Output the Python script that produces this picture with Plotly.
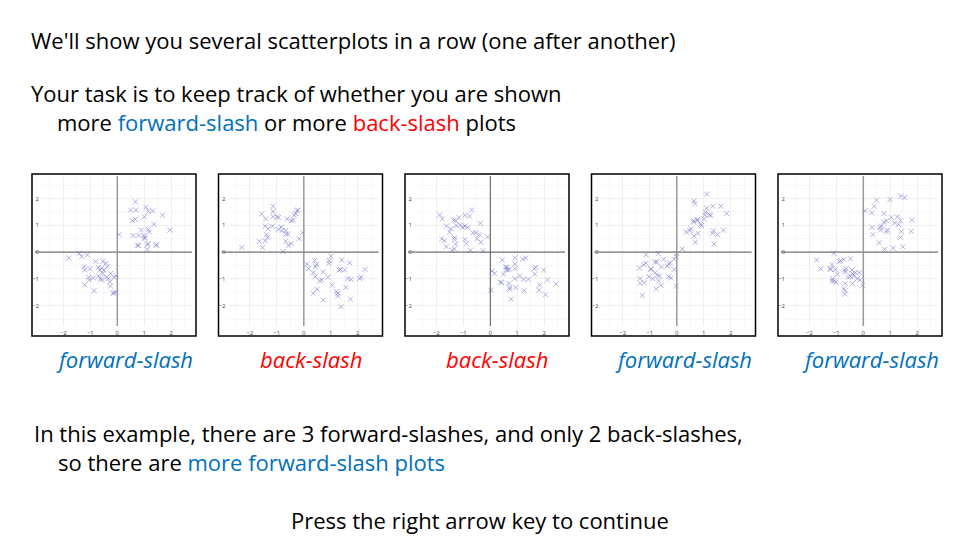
import plotly.graph_objects as go

p1_x = [0.67, 0.49, 0.69, 1.06, 1.15, 1.31, 1.68, 1.0, 0.67, 0.56, 1.36, 1.15, 1.19, 1.95, 0.89, 0.59, 0.07,
        0.80, 0.99, 1.02, 1.01, 1.14, 1.11, 0.74, 0.79, 1.46, 1.43, 1.11,
        -1.80, -1.41, -1.32, -1.11, -1.23, -1.21, -1.01, -0.81, -0.54, -0.42, -0.37, -0.70, -0.58, -0.64,
        -1.06, -1.04, -0.89, -0.70, -0.62, -0.59, -0.42, -0.32, -0.25, -0.12, -0.05, -0.27, -0.25, -1.21,
        -0.86, -0.17, -0.12, -0.05, -0.54, -0.49]
p1_y = [1.88, 1.57, 1.57, 1.67, 1.52, 1.54, 1.37, 1.32, 1.22, 1.17, 1.04, 0.84, 0.75, 0.82, 0.82, 0.62, 0.65,
        0.62, 0.62, 0.55, 0.50, 0.32, 0.27, 0.25, 0.25, 0.27, 0.25, 0.10,
        -0.22, -0.05, -0.17, -0.10, -0.55, -0.67, -0.62, -0.35, -0.35, -0.42, -0.55, -0.57, -0.61, -0.67,
        -0.94, -1.04, -0.97, -0.89, -0.99, -1.04, -0.94, -0.98, -0.80, -0.94, -0.89, -1.12, -1.27, -1.22,
        -1.44, -1.54, -1.52, -1.49, -0.80, -0.67]

p2_x = [-2.30, -1.65, -1.53, -1.43, -1.35, -1.38, -1.33, -1.43, -1.56, -1.41, -1.16, -1.14, -1.14, -1.14,
        -0.99, -0.94, -0.94, -0.84, -0.81, -0.67, -0.62, -0.67, -0.59, -0.67, -0.57, -0.47, -0.77, -0.47,
        -0.40, -0.35, -0.30, -0.25, -0.22, -0.17, -0.05,
        0.12, 0.17, 0.40, 0.44, 0.47, 0.35, 0.42, 0.59, 0.67, 0.72, 0.49, 0.35, 0.72, 0.89, 0.94, 0.94,
        1.01, 1.06, 1.21, 1.26, 1.26, 1.31, 1.36, 1.41, 1.51, 1.56, 1.63, 1.70, 1.75, 1.73, 1.38, 2.07,
        2.12, 2.27]
p2_y = [0.17, 0.40, 0.17, 0.42, 0.55, 0.65, 0.87, 0.97, 1.42, 1.24, 0.97, 1.71, 1.52, 1.32, 1.32, 1.29,
        0.84, 0.94, 0.80, 0.80, 1.24, 0.67, 0.67, 0.40, 0.25, 0.32, 0.02, 1.17, 1.19, 1.37, 1.44, 1.54,
        1.57, 0.50, 0.72,
        -0.45, -0.62, -0.32, -0.55, -0.47, -0.77, -0.92, -1.07, -1.04, -0.74, -1.39, -1.54, -1.79, -0.94,
        -0.42, -0.32, -0.15, -1.24, -1.47, -1.64, -1.54, -0.67, -0.65, -0.30, -0.67, -1.32, -0.99, -0.40,
        -1.02, -1.76, -2.04, -0.99, -0.94, -0.65]

p3_x = [-1.88, -1.78, -1.63, -1.80, -1.70, -1.63, -1.46, -1.51, -1.36, -1.28, -1.33, -1.33, -1.28, -1.41,
        -1.33, -1.26, -1.16, -1.11, -1.04, -0.94, -0.94, -0.84, -0.77, -0.69, -0.94, -0.89, -0.74, -0.64,
        -0.54, -0.49, -0.40, -0.37, -0.35, -0.10, -0.27,
        0.02, 0.07, 0.15, 0.44, 0.37, 0.42, 0.49, 0.57, 0.62, 0.64, 0.59, 0.69, 0.69, 0.72, 0.72, 0.77,
        0.91, 0.91, 0.91, 0.91, 0.94, 1.09, 1.21, 1.31, 1.23, 1.26, 1.41, 1.63, 1.68, 1.65, 1.98, 2.12,
        1.83, 1.80, 2.05, 2.44]
p3_y = [1.39, 1.24, 0.97, 0.50, 0.42, 0.20, 0.87, 0.75, 1.19, 1.17, 0.55, 0.47, 0.30, 0.07, 0.12, 0.99,
        1.29, 1.02, 0.92, 0.97, 1.37, 0.92, 1.34, 1.57, 0.47, 0.32, 0.07, 0.72, 0.72, 0.50, 0.65, 1.07,
        0.37, 0.57, 0.05,
        -1.42, -0.70, -0.80, -0.30, -1.12, -1.14, -0.82, -0.55, -0.57, -0.67, -0.65, -0.65, -1.17, -1.32,
        -1.39, -1.76, -0.22, -0.45, -0.62, -0.99, -1.32, -0.89, -0.27, -0.22, -1.02, -1.44, -1.02, -0.62,
        -0.57, -0.82, -0.67, -1.04, -1.24, -1.42, -1.59, -1.19]

p4_x = [1.11, 0.64, 0.67, 1.11, 1.33, 1.63, 1.85, 1.06, 1.04, 1.21, 1.26, 1.01, 0.77, 0.77, 0.62, 0.62,
        0.89, 0.91, 0.52, 0.49, 0.35, 1.36, 1.33, 1.51, 1.73, 0.79, 0.64, 0.69, 1.38, 0.20,
        0.0, -0.02, -0.10, -0.69, -1.14, -1.14, -1.23, -1.38, -1.04, -0.96, -0.96, -0.81, -0.74, -0.49,
        -0.30, -0.25, -0.35, -0.57, -0.81, -0.72, -0.64, -0.89, -0.67, -0.59, -0.77, -0.30, -0.22, -0.10,
        -0.02, -1.36, -1.36, -1.21, -1.28]
p4_y = [2.16, 1.91, 1.81, 1.64, 1.71, 1.71, 1.44, 1.49, 1.39, 1.39, 1.37, 1.24, 1.22, 1.17, 1.17, 1.12,
        1.04, 0.99, 0.87, 0.80, 0.75, 0.80, 0.70, 0.65, 0.82, 0.70, 0.60, 0.37, 0.30, 0.12,
        -0.05, -0.15, -0.27, -0.05, -0.10, -0.42, -0.47, -0.60, -0.92, -0.65, -0.62, -0.37, -0.37, -0.27,
        -0.45, -0.40, -0.52, -0.55, -0.77, -0.86, -0.89, -0.99, -1.07, -1.24, -1.37, -0.92, -0.97, -0.65,
        -1.27, -0.99, -1.17, -1.14, -1.62]

p5_x = [1.38, 1.53, 0.99, 0.49, 0.40, 0.07, 0.32, 0.77, 1.04, 1.26, 1.38, 1.80, 0.77, 0.86, 1.16, 1.31,
        0.67, 0.62, 0.64, 0.32, 0.89, 0.86, 0.35, 1.41, 1.78, 1.38, 0.59, 0.79, 1.11, 1.46,
        -1.09, -1.73, -1.58, -1.23, -1.21, -1.16, -1.04, -0.96, -0.89, -0.84, -0.72, -0.47, -1.14, -1.16,
        -1.09, -1.01, -0.69, -0.67, -0.64, -0.42, -0.40, -0.35, -0.47, -0.57, -0.30, -0.15, -0.22, -0.12,
        -0.02, -0.40, -0.67, -0.72, -0.67, -0.69]
p5_y = [2.09, 2.04, 1.96, 1.94, 1.71, 1.54, 1.47, 1.44, 1.29, 1.32, 1.17, 1.19, 1.12, 1.17, 1.09, 1.02,
        0.97, 0.92, 0.82, 0.92, 0.82, 0.75, 0.65, 0.77, 0.77, 0.55, 0.35, 0.10, 0.15, 0.20,
        -0.05, -0.30, -0.62, -0.62, -0.65, -0.47, -0.65, -0.82, -0.35, -0.32, -0.27, -0.25, -0.99, -1.07,
        -1.09, -1.12, -0.67, -0.74, -0.62, -0.67, -0.80, -0.89, -0.92, -0.94, -0.77, -0.77, -0.99, -1.04,
        -1.24, -1.17, -1.17, -1.37, -1.44, -1.57]

panels = [(p1_x, p1_y), (p2_x, p2_y), (p3_x, p3_y), (p4_x, p4_y), (p5_x, p5_y)]
panel_labels = ["forward-slash", "back-slash", "back-slash", "forward-slash", "forward-slash"]
tick_vals = [-2, -1, 0, 1, 2]

BLUE = "#0070c0"
RED = "#ff0000"
FONT = "Open Sans"
W, H = 960, 540
OFF = 8  # the page body adds an 8px margin, so shift everything back


def px(x):
    return (x - OFF) / W


def py(y):
    return 1 - (y - OFF) / H


fig = go.Figure()

step = 186.5
y_dom = [py(326), py(176)]

for i, (xs, ys) in enumerate(panels):
    n = i + 1
    left = 41 + step * i
    xa = "xaxis" if n == 1 else f"xaxis{n}"
    ya = "yaxis" if n == 1 else f"yaxis{n}"
    xr = "x" if n == 1 else f"x{n}"
    yr = "y" if n == 1 else f"y{n}"

    fig.add_trace(go.Scatter(
        x=xs, y=ys, mode="markers", xaxis=xr, yaxis=yr, showlegend=False,
        marker=dict(symbol="x-thin-open", size=5, color="rgba(115,115,200,0.55)",
                    line=dict(width=1)),
    ))

    axis_common = dict(
        tickvals=tick_vals, showline=False, zeroline=False, ticks="",
        showgrid=True, gridcolor="#efefef", gridwidth=0.6,
        minor=dict(dtick=0.5, showgrid=True, gridcolor="#f7f7f7", gridwidth=0.5),
        tickfont=dict(size=6, color="#444444", family=FONT), fixedrange=True,
    )
    fig.update_layout(**{
        xa: dict(domain=[px(left), px(left + 151)], range=[-2.83, 2.77],
                 anchor=yr, ticklabelstandoff=2, **axis_common),
        ya: dict(domain=y_dom, range=[-2.76, 2.84], anchor=xr,
                 ticklabelstandoff=1, **axis_common),
    })

    # zero lines (horizontal reaches a little past the panel on the left)
    fig.add_shape(type="line", xref="paper", yref=yr,
                  x0=px(left - 6), x1=px(left + 151), y0=0, y1=0,
                  line=dict(color="#555555", width=1))
    fig.add_shape(type="line", xref=xr, yref="paper",
                  x0=0, x1=0, y0=y_dom[0], y1=y_dom[1],
                  line=dict(color="#555555" if n == 3 else "#999999", width=1.5 if n != 3 else 1))

    # black frame around each panel
    fx0 = 32 + step * i
    fig.add_shape(type="rect", xref="paper", yref="paper",
                  x0=px(fx0), x1=px(fx0 + 164), y0=py(336), y1=py(174),
                  line=dict(color="black", width=1.5))

    # caption below each panel
    lab = panel_labels[i]
    fig.add_annotation(
        text=f"<i>{lab}</i>", xref="paper", yref="paper",
        x=px(124 + step * i), y=py(359), showarrow=False,
        xanchor="center", yanchor="middle",
        font=dict(size=22, family=FONT, color=BLUE if lab.startswith("forward") else RED),
    )


def txt(s, x, y, anchor="left"):
    fig.add_annotation(text=s, xref="paper", yref="paper", x=px(x), y=py(y),
                       showarrow=False, xanchor=anchor, yanchor="middle", borderpad=0,
                       font=dict(size=22, family=FONT, color="black"))


txt("We'll show you several scatterplots in a row (one after another)", 30, 40)
txt("Your task is to keep track of whether you are shown", 30, 93)
txt(f"more <span style='color:{BLUE}'>forward-slash</span> or more "
    f"<span style='color:{RED}'>back-slash</span> plots", 56, 122)
txt("In this example, there are 3 forward-slashes, and only 2 back-slashes,", 33, 433)
txt(f"so there are <span style='color:{BLUE}'>more forward-slash plots</span>", 57, 462)
txt("Press the right arrow key to continue", 480, 520, anchor="center")

fig.update_layout(
    width=W, height=H, margin=dict(l=0, r=0, t=0, b=0),
    plot_bgcolor="white", paper_bgcolor="white",
)

fig.write_html("out.html")
